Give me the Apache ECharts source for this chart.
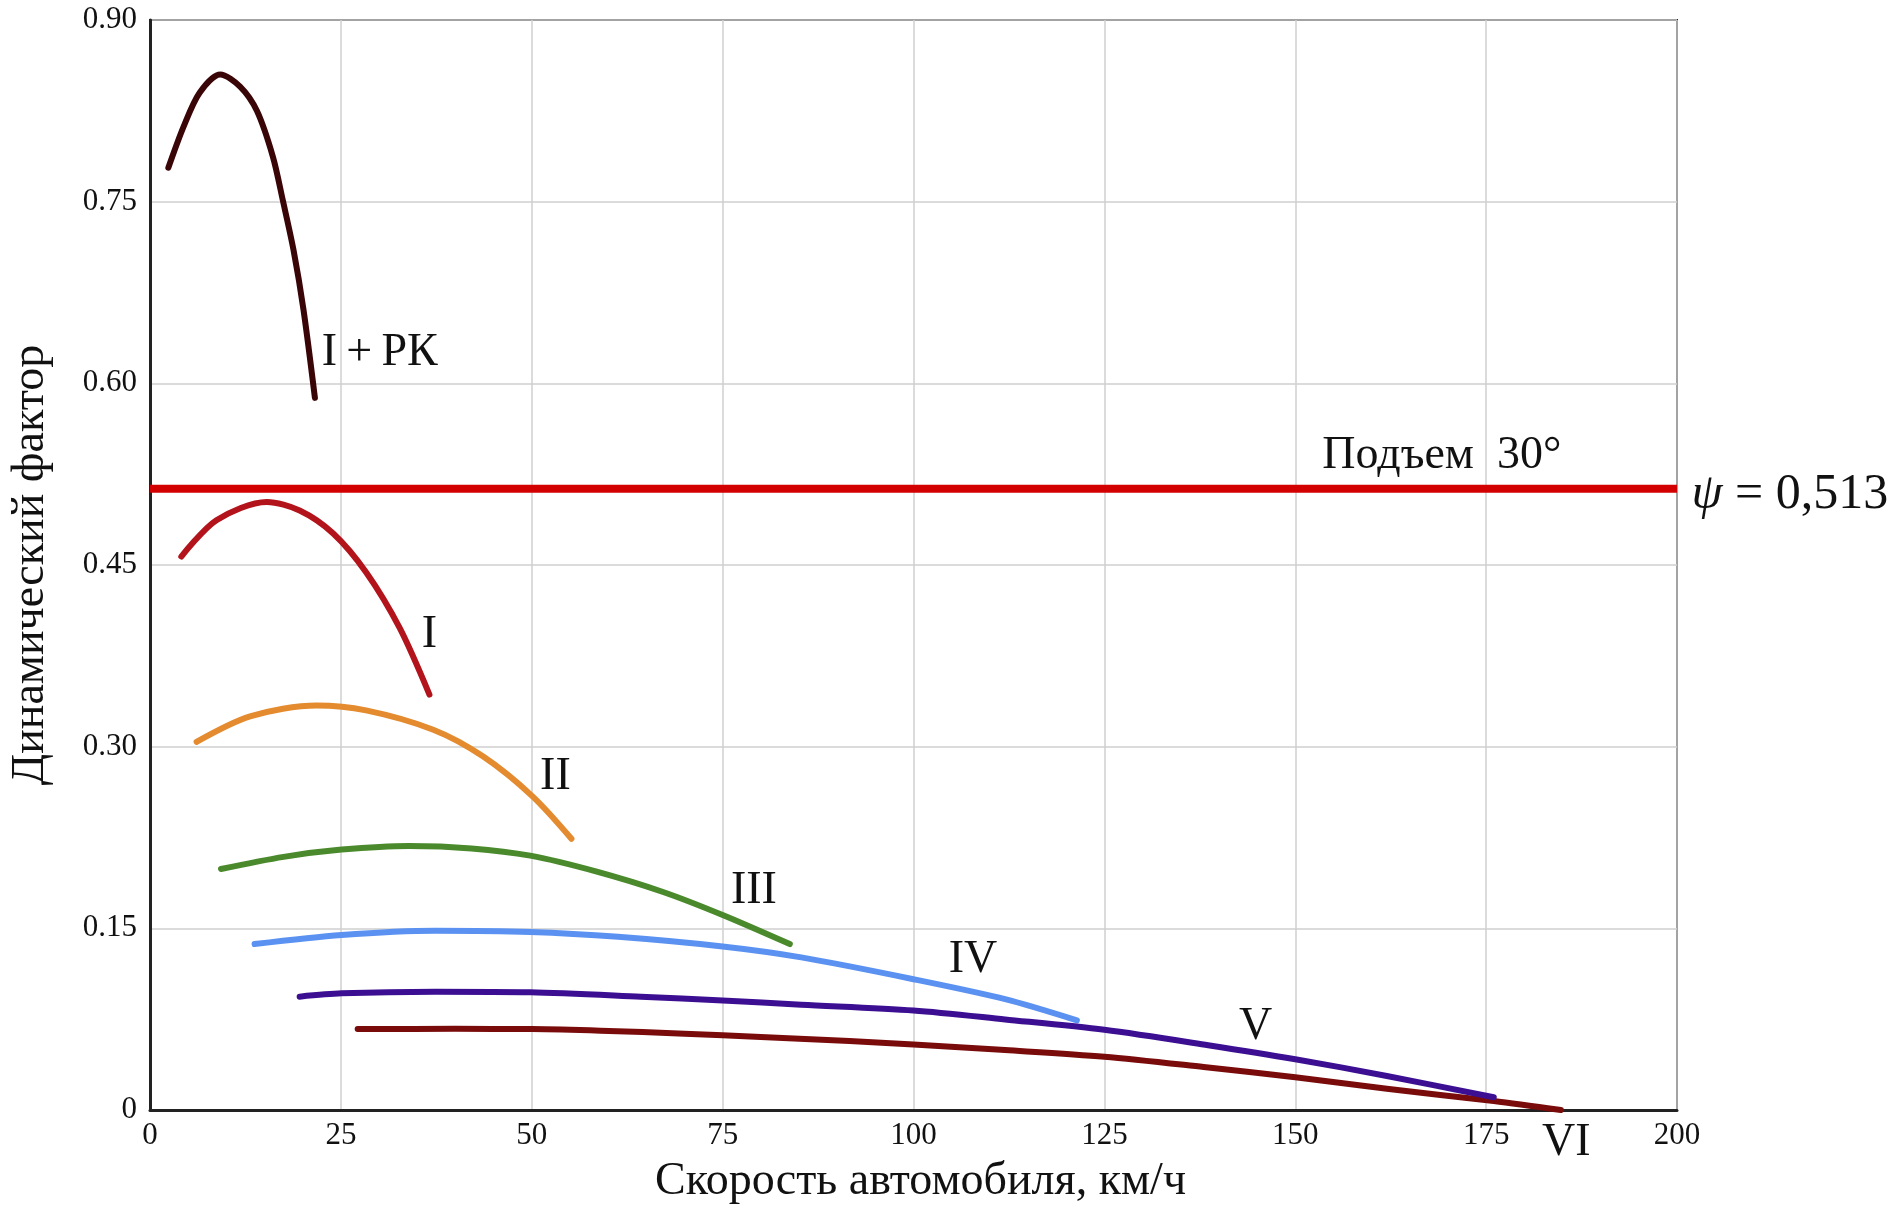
<!DOCTYPE html>
<html>
<head>
<meta charset="utf-8">
<script src="https://cdn.jsdelivr.net/npm/echarts@6/dist/echarts.min.js"></script>
<style>
  html, body { margin: 0; padding: 0; background: #fff; }
  #chart { width: 1901px; height: 1212px; }
</style>
</head>
<body>
<div id="chart"></div>
<script>
// ---- data (speed, km/h  ->  dynamic factor) ----
const speedIPK = [2.4, 4.4, 6.5, 9.2, 11.8, 14.0, 16.1, 17.4, 18.8, 20.1, 21.6];
const dfIPK    = [0.778, 0.812, 0.840, 0.855, 0.845, 0.825, 0.787, 0.751, 0.710, 0.661, 0.588];

const speedI = [4.1, 8.7, 15.3, 19.6, 24.0, 28.3, 32.7, 36.6];
const dfI    = [0.457, 0.487, 0.502, 0.495, 0.476, 0.444, 0.398, 0.343];

const speedII = [6.1, 13.1, 21.8, 28.3, 37.1, 43.6, 50.1, 55.2];
const dfII    = [0.304, 0.325, 0.334, 0.330, 0.314, 0.292, 0.259, 0.224];

const speedIII = [9.3, 17.5, 25.1, 33.9, 42.1, 49.8, 58.4, 67.2, 75.0, 83.8];
const dfIII    = [0.199, 0.209, 0.215, 0.218, 0.216, 0.210, 0.197, 0.180, 0.161, 0.137];

const speedIV = [13.7, 25.1, 37.4, 49.8, 61.3, 75.0, 85.3, 100.0, 112.0, 121.4];
const dfIV    = [0.137, 0.1445, 0.148, 0.147, 0.143, 0.135, 0.126, 0.108, 0.0915, 0.074];

const speedV = [19.6, 25.1, 37.4, 49.8, 64.3, 75.0, 85.3, 100.0, 112.0, 125.0, 138.6, 150.0, 162.0, 176.0];
const dfV    = [0.0936, 0.0963, 0.0977, 0.0972, 0.0936, 0.0905, 0.0870, 0.0822, 0.0748, 0.0662, 0.0535, 0.0419, 0.0281, 0.0105];

const speedVI = [27.2, 40.0, 50.0, 59.0, 70.0, 80.0, 91.6, 100.0, 112.0, 125.0, 138.0, 150.0, 162.0, 176.0, 184.8];
const dfVI    = [0.0668, 0.0670, 0.0668, 0.0655, 0.0630, 0.0603, 0.0570, 0.0540, 0.0495, 0.0440, 0.0355, 0.0270, 0.0175, 0.0074, 0.0];

const psiValue = 0.513;
const psiSpeed = [0, 200];

const xTicks = [0, 25, 50, 75, 100, 125, 150, 175, 200];
const yTicks = ['0', '0.15', '0.30', '0.45', '0.60', '0.75', '0.90'];

// curve labels: text, anchor speed, anchor factor
const curveLabels = [
  ['I\u2009+\u2009РК', 30.1, 0.625],
  ['I', 36.6, 0.392],
  ['II', 53.1, 0.275],
  ['III', 79.1, 0.181],
  ['IV', 107.8, 0.124],
  ['V', 144.8, 0.069],
  ['VI', 185.5, -0.027],
  ['Подъем  30°', 169.2, 0.540]
];
const psiLabel = [' = 0,513', 201.9, 0.508];

// ---- chart ----
const zip = (a, b) => a.map((v, i) => [v, b[i]]);
const FONT = '"Liberation Serif", "Times New Roman", serif';

const chart = echarts.init(document.getElementById('chart'));

function curve(name, xs, ys, color, width) {
  return {
    name: name, type: 'line', data: zip(xs, ys),
    smooth: 0.3, showSymbol: false, symbol: 'none',
    lineStyle: { color: color, width: width, cap: 'round', join: 'round' },
    z: 3, silent: true
  };
}

chart.setOption({
  animation: false,
  backgroundColor: '#ffffff',
  grid: { left: 148, right: 224, top: 20, bottom: 102, show: true, borderColor: '#222', borderWidth: 2 },
  xAxis: {
    type: 'value', min: xTicks[0], max: xTicks[xTicks.length - 1], interval: 25,
    name: 'Скорость автомобиля, км/ч', nameLocation: 'middle', nameGap: 49,
    nameTextStyle: { fontFamily: FONT, fontSize: 46, color: '#111', padding: [0, 0, 0, 14] },
    axisLine: { show: true, lineStyle: { color: '#222', width: 3 } },
    axisTick: { show: false },
    axisLabel: { fontFamily: FONT, fontSize: 31, color: '#111', margin: 10 },
    splitLine: { show: true, lineStyle: { color: '#cfcfcf', width: 1.5 } }
  },
  yAxis: {
    type: 'value', min: 0, max: 0.9, interval: 0.15,
    name: 'Динамический фактор', nameLocation: 'middle', nameGap: 96,
    nameTextStyle: { fontFamily: FONT, fontSize: 46, color: '#111' },
    axisLine: { show: true, lineStyle: { color: '#222', width: 3 } },
    axisTick: { show: false },
    axisLabel: {
      fontFamily: FONT, fontSize: 31, color: '#111', margin: 13,
      formatter: (v) => yTicks[Math.round(v / 0.15)]
    },
    splitLine: { show: true, lineStyle: { color: '#cfcfcf', width: 1.5 } }
  },
  series: [
    {
      name: 'psi', type: 'line', data: psiSpeed.map(s => [s, psiValue]),
      showSymbol: false, symbol: 'none',
      lineStyle: { color: '#d20000', width: 8 }, z: 2, silent: true
    },
    curve('I+РК', speedIPK, dfIPK, '#3a0507', 6),
    curve('I', speedI, dfI, '#b3131b', 6),
    curve('II', speedII, dfII, '#e48b2f', 6),
    curve('III', speedIII, dfIII, '#4b8a2c', 6),
    curve('IV', speedIV, dfIV, '#5b92f2', 6),
    curve('VI', speedVI, dfVI, '#7a0b0b', 6),
    curve('V', speedV, dfV, '#3c0f92', 6)
  ]
});

// text annotations placed through the axes' own scales
const graphics = curveLabels.map(([t, sx, sy]) => {
  const p = chart.convertToPixel({ gridIndex: 0 }, [sx, sy]);
  return {
    type: 'text', x: p[0], y: p[1], z: 10,
    style: { text: t, font: '46px ' + FONT, fill: '#111', align: 'center', verticalAlign: 'middle' }
  };
});
const pp = chart.convertToPixel({ gridIndex: 0 }, [psiLabel[1], psiLabel[2]]);
graphics.push({
  type: 'text', x: pp[0], y: pp[1], z: 10,
  style: {
    text: '{i|ψ}{n|' + psiLabel[0] + '}',
    align: 'left', verticalAlign: 'middle',
    rich: {
      i: { fontFamily: FONT, fontSize: 50, fontStyle: 'italic', fill: '#111' },
      n: { fontFamily: FONT, fontSize: 50, fill: '#111' }
    }
  }
});
chart.setOption({ graphic: graphics });
</script>
</body>
</html>
